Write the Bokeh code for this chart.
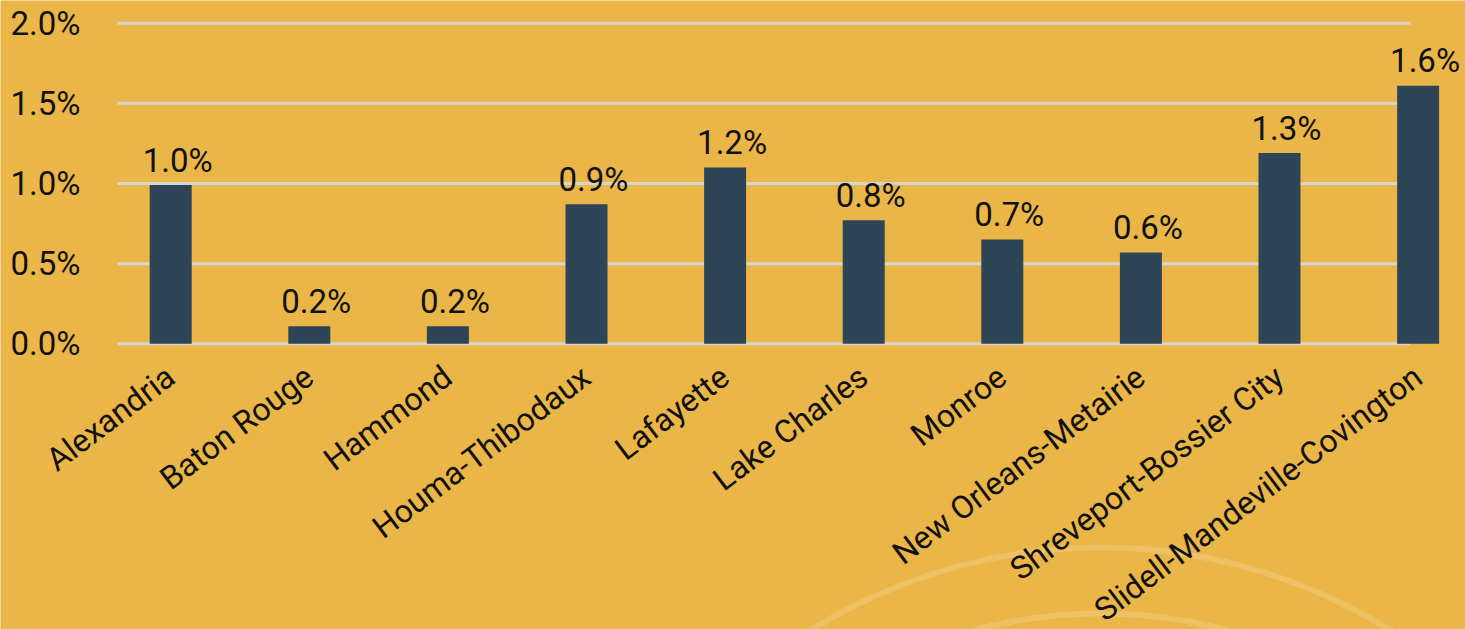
import numpy as np
from bokeh.plotting import figure
from bokeh.models import Range1d, FixedTicker, PrintfTickFormatter
from bokeh.embed import file_html
from bokeh.resources import INLINE
from bokeh.core.properties import value

# ---- data ----
cities = ["Alexandria", "Baton Rouge", "Hammond", "Houma-Thibodaux", "Lafayette",
          "Lake Charles", "Monroe", "New Orleans-Metairie", "Shreveport-Bossier City",
          "Slidell-Mandeville-Covington"]
values = [0.99, 0.11, 0.11, 0.87, 1.10, 0.77, 0.65, 0.57, 1.19, 1.61]
labels = ["1.0%", "0.2%", "0.2%", "0.9%", "1.2%", "0.8%", "0.7%", "0.6%", "1.3%", "1.6%"]
y_ticks = [0.0, 0.5, 1.0, 1.5, 2.0]

# ---- style ----
BG = "#EAB647"
BAR = "#2E4557"
GRID = "#D8D5CE"
FONT = "Roboto"
FS = "33px"
FS_X = "32px"

W, H = 1465, 629
PX_X, PX_Y = 138.6, 160.3
X0_PX, ZERO_PX = 170.2, 343.3
x_start = -X0_PX / PX_X
x_end = x_start + W / PX_X
y_end = ZERO_PX / PX_Y
y_start = y_end - H / PX_Y
plot_left = (117 - X0_PX) / PX_X
grid_end = (1410 - X0_PX) / PX_X

idx = list(range(len(cities)))

p = figure(width=W, height=H, x_range=Range1d(x_start, x_end), y_range=Range1d(y_start, y_end),
           output_backend="svg", toolbar_location=None,
           min_border_left=0, min_border_top=0, min_border_bottom=0, min_border_right=0)
p.background_fill_color = BG
p.border_fill_color = BG
p.outline_line_color = None
p.xgrid.visible = False
p.ygrid.visible = False

# decorative faint circles
arc_cx = (1100 - X0_PX) / PX_X
arc_cy = (ZERO_PX - 1095) / PX_Y
p.circle(x=[arc_cx, arc_cx], y=[arc_cy, arc_cy], radius=[548, 482], radius_units="screen",
         fill_color=None, line_color="white", line_alpha=0.16, line_width=6, level="underlay")

# grid lines
p.segment(x0=[plot_left] * len(y_ticks), y0=y_ticks, x1=[grid_end] * len(y_ticks), y1=y_ticks,
          line_color=GRID, line_width=3)

# bars
p.vbar(x=idx, top=values, bottom=0, width=42 / PX_X, fill_color=BAR, line_color=None)

# value labels
p.text(x=idx, y=values, text=labels, text_font=value(FONT), text_font_size=FS,
       text_align="center", text_baseline="alphabetic", x_offset=7, y_offset=-25,
       text_color="#111111")

# y axis
ya = p.yaxis[0]
ya.fixed_location = plot_left
ya.ticker = FixedTicker(ticks=y_ticks)
ya.formatter = PrintfTickFormatter(format="%.1f%%")
ya.major_label_text_font = FONT
ya.major_label_text_font_size = FS
ya.major_label_text_color = "#111111"
ya.axis_line_color = None
ya.major_tick_line_color = None
ya.minor_tick_line_color = None
ya.major_tick_out = 0
ya.major_tick_in = 0
ya.major_label_standoff = 37

# x axis
xa = p.xaxis[0]
xa.fixed_location = 0
xa.ticker = FixedTicker(ticks=idx)
xa.major_label_overrides = {i: c for i, c in zip(idx, cities)}
xa.major_label_orientation = np.deg2rad(37)
xa.major_label_text_font = FONT
xa.major_label_text_font_size = FS_X
xa.major_label_text_color = "#111111"
xa.axis_line_color = None
xa.major_tick_line_color = None
xa.minor_tick_line_color = None
xa.major_tick_out = 0
xa.major_tick_in = 0
xa.major_label_standoff = 29

open("out.html", "w").write(file_html(p, INLINE))
